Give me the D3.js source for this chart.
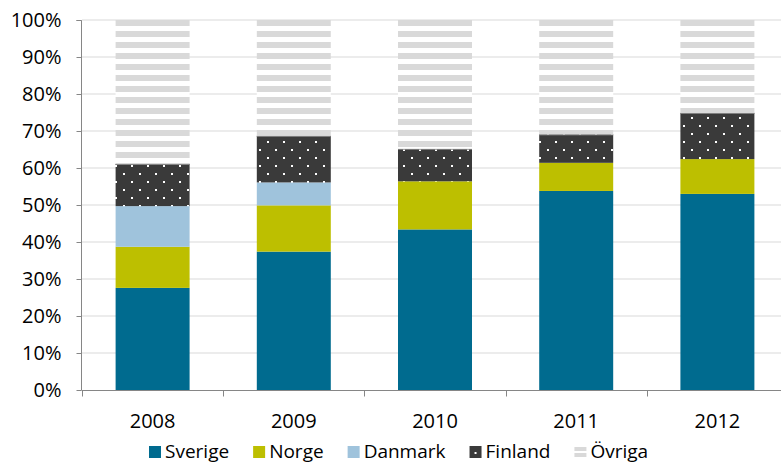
<!DOCTYPE html>
<html>
<head>
<meta charset="utf-8">
<script src="https://cdn.jsdelivr.net/npm/d3@7/dist/d3.min.js"></script>
<style>
  html, body { margin: 0; padding: 0; background: #fff; }
  svg { display: block; }
  text { font-family: "Open Sans", "DejaVu Sans", sans-serif; fill: #000; }
</style>
</head>
<body>
<svg id="chart" width="781" height="463"></svg>
<script>
const years = ["2008", "2009", "2010", "2011", "2012"];
const seriesNames = ["Sverige", "Norge", "Danmark", "Finland", "Övriga"];
const sverige = [27.6, 37.4, 43.4, 53.8, 53.0];
const norge   = [11.1, 12.5, 13.0, 7.6, 9.4];
const danmark = [11.0, 6.2, 0, 0, 0];
const finland = [11.4, 12.6, 8.8, 7.7, 12.5];
const ovriga  = [38.9, 31.3, 34.8, 30.9, 25.1];
const yTicks  = [0, 10, 20, 30, 40, 50, 60, 70, 80, 90, 100];

const FS = 20;
const LFS = 19;
const svg = d3.select("#chart");
const defs = svg.append("defs");

// Finland: dark with white dots
const pf = defs.append("pattern").attr("id", "pFinland")
  .attr("patternUnits", "userSpaceOnUse").attr("width", 16).attr("height", 16);
pf.append("rect").attr("width", 16).attr("height", 16).attr("fill", "#3a3a3a");
pf.append("rect").attr("x", 3).attr("y", 5).attr("width", 2).attr("height", 2).attr("fill", "#fff");
pf.append("rect").attr("x", 11).attr("y", 13).attr("width", 2).attr("height", 2).attr("fill", "#fff");

// Övriga: light gray horizontal stripes
const po = defs.append("pattern").attr("id", "pOvriga")
  .attr("patternUnits", "userSpaceOnUse").attr("width", 8).attr("height", 11).attr("y", 20);
po.append("rect").attr("width", 8).attr("height", 11).attr("fill", "#fff");
po.append("rect").attr("width", 8).attr("height", 6).attr("fill", "#d9d9d9");

// Legend patterns
const pfl = defs.append("pattern").attr("id", "pFinlandLeg")
  .attr("patternUnits", "objectBoundingBox").attr("width", 1).attr("height", 1);
pfl.append("rect").attr("width", 12).attr("height", 12).attr("fill", "#3a3a3a");
pfl.append("rect").attr("x", 5).attr("y", 6).attr("width", 2).attr("height", 2).attr("fill", "#fff");
const pol = defs.append("pattern").attr("id", "pOvrigaLeg")
  .attr("patternUnits", "objectBoundingBox").attr("width", 1).attr("height", 1);
pol.append("rect").attr("width", 12).attr("height", 12).attr("fill", "#fff");
pol.append("rect").attr("y", 1).attr("width", 12).attr("height", 4).attr("fill", "#d9d9d9");
pol.append("rect").attr("y", 7).attr("width", 12).attr("height", 4).attr("fill", "#d9d9d9");

const fills = {
  "Sverige": "#006b8f",
  "Norge": "#bdbf00",
  "Danmark": "#9fc3dc",
  "Finland": "url(#pFinland)",
  "Övriga": "url(#pOvriga)"
};
const legFills = {
  "Sverige": "#006b8f",
  "Norge": "#bdbf00",
  "Danmark": "#9fc3dc",
  "Finland": "url(#pFinlandLeg)",
  "Övriga": "url(#pOvrigaLeg)"
};

const x = d3.scaleBand().domain(years).range([82, 788])
  .paddingInner(0.476).paddingOuter(0.238);
const y = d3.scaleLinear().domain([0, 100]).range([390, 20]);

// gridlines
svg.append("g").selectAll("line").data(yTicks.filter(d => d > 0)).join("line")
  .attr("x1", 82).attr("x2", 781)
  .attr("y1", d => y(d)).attr("y2", d => y(d))
  .attr("stroke", "#ececec").attr("stroke-width", 2);

// stacked data
const rows = years.map((yr, i) => ({
  year: yr, "Sverige": sverige[i], "Norge": norge[i], "Danmark": danmark[i],
  "Finland": finland[i], "Övriga": ovriga[i]
}));
const stack = d3.stack().keys(seriesNames)(rows);

const gBars = svg.append("g");
stack.forEach(layer => {
  gBars.append("g").selectAll("rect").data(layer).join("rect")
    .attr("x", d => x(d.data.year))
    .attr("width", x.bandwidth())
    .attr("y", d => y(Math.min(d[1], 100)))
    .attr("height", d => Math.max(0, y(d[0]) - y(Math.min(d[1], 100))))
    .attr("fill", fills[layer.key]);
  if (layer.key === "Finland") {
    gBars.append("g").selectAll("line").data(layer).join("line")
      .attr("x1", d => x(d.data.year)).attr("x2", d => x(d.data.year) + x.bandwidth())
      .attr("y1", d => y(d[1]) + 0.5).attr("y2", d => y(d[1]) + 0.5)
      .attr("stroke", "#8c8c8c").attr("stroke-width", 1);
  }
});

// Y axis
const yAxis = d3.axisLeft(y).tickValues(yTicks).tickSize(5).tickPadding(15)
  .tickFormat(d => d + "%");
const gy = svg.append("g").attr("transform", "translate(81.5,0)").call(yAxis);
gy.select(".domain").attr("stroke", "#868686").attr("d", "M-5,20.5H0V390");
gy.selectAll(".tick line").attr("stroke", "#868686");
gy.selectAll(".tick text").attr("font-size", FS).attr("font-family", "Open Sans").attr("fill", "#000");

// X axis
const gx = svg.append("g").attr("transform", "translate(0,390.5)");
gx.append("line").attr("x1", 81.5).attr("x2", 781).attr("y1", 0).attr("y2", 0).attr("stroke", "#868686");
const bounds = d3.range(years.length).map(i => x.range()[0] + i * x.step());
gx.selectAll("line.tk").data(bounds).join("line").attr("class", "tk")
  .attr("x1", d => Math.round(d) + 0.5).attr("x2", d => Math.round(d) + 0.5)
  .attr("y1", 0).attr("y2", 6).attr("stroke", "#868686");
gx.selectAll("text").data(years).join("text")
  .attr("x", d => x(d) + x.bandwidth() / 2).attr("y", 37.5)
  .attr("text-anchor", "middle").attr("font-size", FS).text(d => d);

// Legend
const leg = svg.append("g");
let cx = 0;
seriesNames.forEach(name => {
  const g = leg.append("g");
  g.append("rect").attr("x", 0).attr("y", -5).attr("width", 12).attr("height", 12)
    .attr("fill", legFills[name]);
  const t = g.append("text").attr("x", 16).attr("y", 7).attr("font-size", LFS).text(name);
  const w = 16 + t.node().getComputedTextLength();
  g.attr("transform", `translate(${cx},0)`);
  cx += w + 24;
});
const totalW = cx - 24;
leg.attr("transform", `translate(${Math.round(398.5 - totalW / 2)},451)`);
</script>
</body>
</html>
